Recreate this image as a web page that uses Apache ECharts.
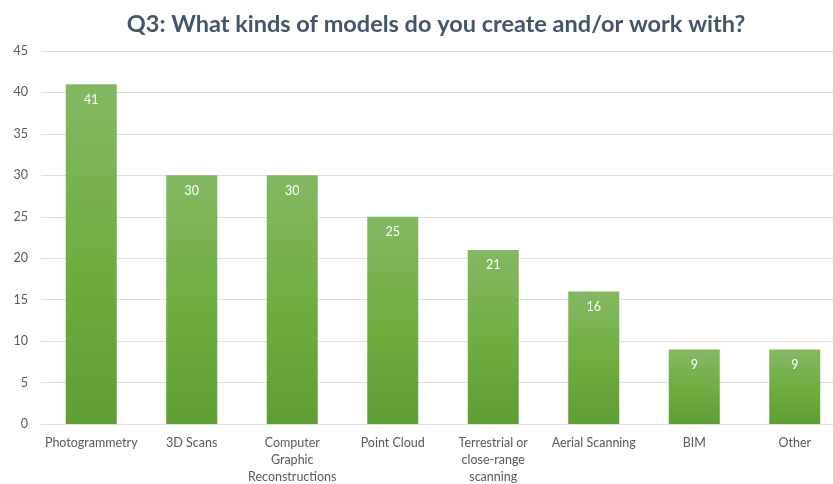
<!DOCTYPE html>
<html>
<head>
<meta charset="utf-8">
<style>
  html, body { margin: 0; padding: 0; background: #fff; }
  #chart { width: 833px; height: 484px; }
</style>
<script src="https://cdn.jsdelivr.net/npm/echarts@6/dist/echarts.min.js"></script>
</head>
<body>
<div id="chart"></div>
<script>
// Survey responses: kinds of models respondents create or work with
const titleText = 'Q3: What kinds of models do you create and/or work with?';
const categories = [
  'Photogrammetry',
  '3D Scans',
  'Computer\nGraphic\nReconstructions',
  'Point Cloud',
  'Terrestrial or\nclose-range\nscanning',
  'Aerial Scanning',
  'BIM',
  'Other'
];
const counts = [41, 30, 30, 25, 21, 16, 9, 9];
const yTicks = { min: 0, max: 45, interval: 5 };

const chart = echarts.init(document.getElementById('chart'), null, { renderer: 'canvas' });
const fontFamily = 'Lato, "Open Sans", sans-serif';

chart.setOption({
  animation: false,
  backgroundColor: '#ffffff',
  title: {
    text: titleText,
    left: 431,
    textAlign: 'center',
    top: 7,
    textStyle: {
      fontFamily: fontFamily,
      fontSize: 23.5,
      fontWeight: 'bold',
      color: '#44546A'
    }
  },
  // the category band runs slightly past the right edge of the canvas
  grid: {
    left: 41, width: 804, top: 51, height: 373,
    containLabel: false,
    outerBoundsMode: 'none'
  },
  xAxis: {
    type: 'category',
    data: categories,
    axisLine: { show: true, lineStyle: { color: '#DADFE6', width: 1 } },
    axisTick: { show: false },
    axisLabel: {
      interval: 0,
      margin: 10,
      color: '#595959',
      fontFamily: fontFamily,
      fontSize: 12.5,
      lineHeight: 17
    }
  },
  yAxis: {
    type: 'value',
    min: yTicks.min,
    max: yTicks.max,
    interval: yTicks.interval,
    axisLine: { show: false },
    axisTick: { show: false },
    splitLine: { lineStyle: { color: '#DADFE6', width: 1 } },
    axisLabel: {
      margin: 13,
      color: '#595959',
      fontFamily: fontFamily,
      fontSize: 12.5
    }
  },
  series: [{
    type: 'bar',
    data: counts,
    barWidth: 51,
    itemStyle: {
      color: new echarts.graphic.LinearGradient(0, 0, 0, 1, [
        { offset: 0, color: '#83B863' },
        { offset: 0.5, color: '#70AE42' },
        { offset: 1, color: '#5F9E32' }
      ])
    },
    label: {
      show: true,
      position: 'insideTop',
      distance: 9,
      color: '#ffffff',
      fontFamily: fontFamily,
      fontSize: 12.5
    }
  }]
});
</script>
</body>
</html>
